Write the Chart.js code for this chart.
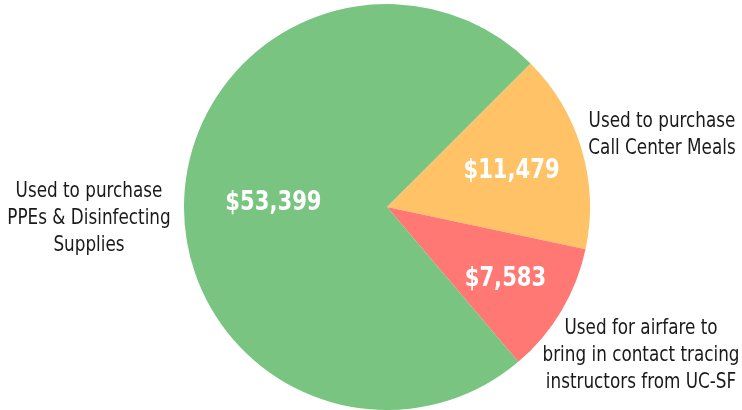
<!DOCTYPE html>
<html lang="en">
<head>
  <meta charset="UTF-8">
  <title>Fund Usage</title>
  <style>
    body { margin: 0; background: #fff; }
    .chart-container { width: 742px; height: 410px; position: relative; }
  </style>
</head>
<body>
  <div class="chart-container">
    <canvas id="fundChart"></canvas>
  </div>

  <script src="https://cdn.jsdelivr.net/npm/chart.js@4.4.0/dist/chart.umd.min.js"></script>
  <script>
    const ctx = document.getElementById('fundChart').getContext('2d');

    // Slices in clockwise order starting at the upper-right
    const categories = ['Call Center Meals', 'Airfare for UC-SF instructors', 'PPEs & Disinfecting Supplies'];
    const amounts = [11479, 7583, 53399];
    const colors = ['#FFC266', '#FF7873', '#78C480'];
    const captions = [
      ['Used to purchase', 'Call Center Meals'],
      ['Used for airfare to', 'bring in contact tracing', 'instructors from UC-SF'],
      ['Used to purchase', 'PPEs & Disinfecting', 'Supplies']
    ];

    const FONT = '"DejaVu Sans Condensed", "Liberation Sans Narrow", "Roboto", sans-serif';

    // draw text squeezed horizontally (the original uses a condensed face)
    function squeezed(c, text, x, y, sx) {
      c.save();
      c.translate(x, y);
      c.scale(sx, 1);
      c.fillText(text, 0, 0);
      c.restore();
    }

    // value labels inside slices + captions outside
    const labelPlugin = {
      id: 'sliceLabels',
      afterDatasetsDraw(chart) {
        const c = chart.ctx;
        const meta = chart.getDatasetMeta(0);
        const insideFrac = [0.64, 0.68, 0.56];
        const captionPos = [[662, 121], [641, 328], [89, 191]];
        c.save();
        c.textAlign = 'center';
        c.textBaseline = 'middle';
        meta.data.forEach((arc, i) => {
          const mid = (arc.startAngle + arc.endAngle) / 2;
          const r = arc.outerRadius * insideFrac[i];
          const x = arc.x + Math.cos(mid) * r;
          const y = arc.y + Math.sin(mid) * r;
          c.fillStyle = '#ffffff';
          c.font = 'bold 27px ' + FONT;
          squeezed(c, '$' + amounts[i].toLocaleString('en-US'), x, y + 1, 0.87);

          c.fillStyle = '#1a1a1a';
          c.font = '22px ' + FONT;
          captions[i].forEach((line, j) => {
            squeezed(c, line, captionPos[i][0], captionPos[i][1] + j * 27.3, 0.85);
          });
        });
        c.restore();
      }
    };

    new Chart(ctx, {
      type: 'pie',
      data: {
        labels: categories,
        datasets: [{
          data: amounts,
          backgroundColor: colors,
          borderWidth: 0
        }]
      },
      options: {
        responsive: true,
        maintainAspectRatio: false,
        animation: false,
        rotation: 45,
        layout: { padding: { left: 32, top: 4, bottom: 0, right: 0 } },
        plugins: {
          legend: { display: false },
          tooltip: { enabled: false }
        }
      },
      plugins: [labelPlugin]
    });
  </script>
</body>
</html>
